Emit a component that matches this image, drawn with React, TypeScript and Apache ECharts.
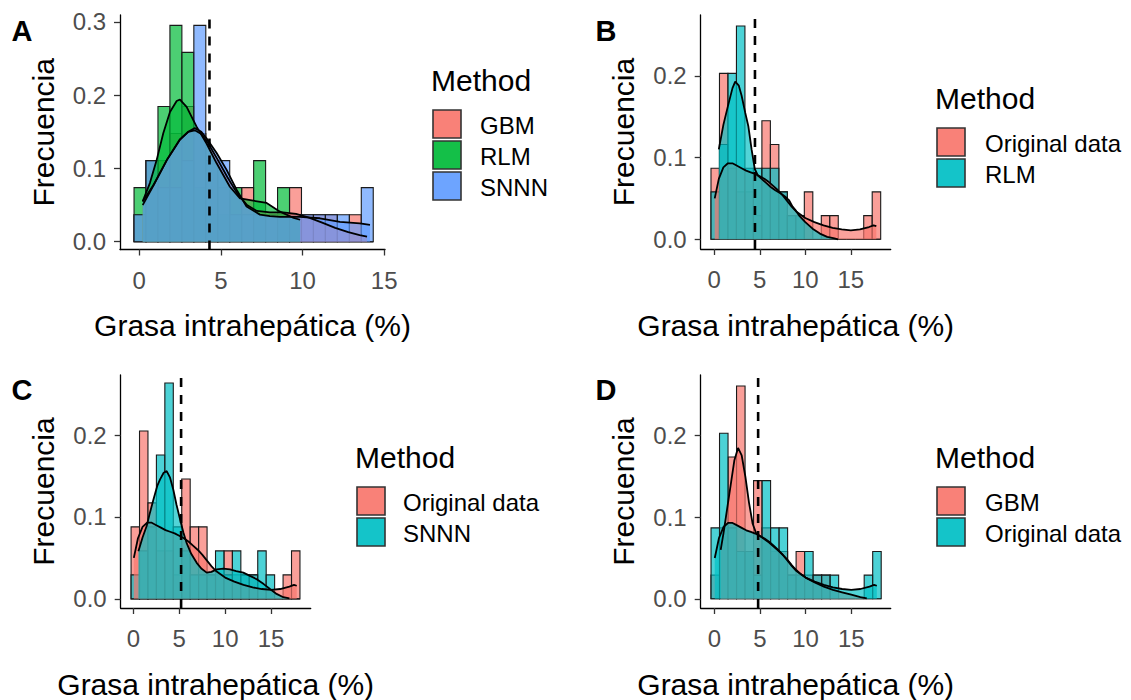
import React, { useEffect, useRef } from "react";
import * as echarts from "echarts";

const FONT = "Liberation Sans, Arial, sans-serif";
const RED = "#F8766D";
const GREEN = "#00BA38";
const BLUE = "#619CFF";
const TEAL = "#00BFC4";

const X_TITLE = "Grasa intrahepática (%)";
const Y_TITLE = "Frecuencia";
const LEGEND_TITLE = "Method";
const X_TICKS = [0, 5, 10, 15];
const Y_TICKS_A = [0, 0.1, 0.2, 0.3];
const Y_TICKS_BCD = [0, 0.1, 0.2];

// ---------- Panel A ----------
const A_BIN_START = -0.32;
const A_BIN_WIDTH = 0.7325;
const A_UNIT = 0.0369;
const A_GBM_COUNTS = [1, 3, 3, 4, 5, 4, 3, 2, 1, 2, 1, 1, 1, 2, 1, 1, 1, 0, 1, 0];
const A_RLM_COUNTS = [2, 3, 5, 8, 7, 2, 1, 1, 2, 0, 3, 0, 2, 1, 0, 0, 0, 0, 0, 0];
const A_SNNN_COUNTS = [1, 3, 2, 2, 3, 8, 3, 3, 1, 1, 1, 1, 1, 1, 1, 1, 1, 1, 0, 2];
const A_GBM_DENSITY = [[0.21, 0.05], [0.9, 0.078], [1.7, 0.112], [2.5, 0.14], [3.0, 0.15], [3.4, 0.152], [3.8, 0.147], [4.2, 0.135], [4.8, 0.112], [5.4, 0.088], [6.0, 0.066], [6.6, 0.05], [7.2, 0.042], [8.0, 0.04], [8.8, 0.04], [9.6, 0.038], [10.4, 0.033], [11.2, 0.026], [12.0, 0.019], [12.8, 0.013], [13.5, 0.009], [13.95, 0.007]];
const A_RLM_DENSITY = [[0.21, 0.055], [0.65, 0.08], [1.06, 0.111], [1.47, 0.148], [1.88, 0.177], [2.29, 0.192], [2.49, 0.194], [2.9, 0.184], [3.51, 0.157], [4.12, 0.134], [4.74, 0.107], [5.55, 0.075], [6.17, 0.059], [6.98, 0.056], [7.8, 0.053], [8.62, 0.041], [8.92, 0.038], [9.4, 0.033], [9.85, 0.03]];
const A_SNNN_DENSITY = [[0.21, 0.055], [0.86, 0.077], [1.68, 0.111], [2.49, 0.139], [3.0, 0.15], [3.4, 0.155], [3.8, 0.15], [4.12, 0.141], [4.74, 0.121], [5.35, 0.098], [5.96, 0.071], [6.57, 0.048], [7.39, 0.037], [8.0, 0.035], [8.62, 0.034], [9.84, 0.034], [11.06, 0.032], [12.29, 0.027], [13.51, 0.025], [14.13, 0.023]];
const A_MEAN = 4.3;

// ---------- Original data (as binned in each panel) ----------
const B_ORIG_COUNTS = [3, 7, 3, 2, 2, 1, 5, 4, 2, 1, 1, 2, 0, 1, 1, 0, 0, 0, 1, 2];
const C_ORIG_COUNTS = [3, 7, 4, 2, 2, 1, 5, 3, 3, 1, 1, 2, 1, 1, 1, 0, 0, 0, 1, 2];
const D_ORIG_COUNTS = [3, 7, 3, 2, 2, 1, 5, 3, 3, 1, 1, 2, 1, 1, 1, 0, 0, 0, 1, 2];
const ORIG_DENSITY = [[0.05, 0.05], [0.5, 0.074], [1.0, 0.088], [1.5, 0.093], [2.0, 0.093], [2.5, 0.09], [3.0, 0.087], [3.5, 0.084], [4.0, 0.082], [4.5, 0.08], [5.0, 0.077], [5.5, 0.074], [6.0, 0.07], [6.5, 0.065], [7.0, 0.06], [7.5, 0.054], [8.0, 0.047], [8.5, 0.04], [9.0, 0.034], [9.5, 0.03], [10.0, 0.026], [11.0, 0.021], [12.0, 0.017], [13.0, 0.014], [14.0, 0.012], [15.0, 0.011], [16.0, 0.012], [17.0, 0.015], [17.5, 0.017], [17.8, 0.016]];

// ---------- Panel B ----------
const B_BIN_START = -0.36;
const B_BIN_WIDTH = 0.932;
const B_UNIT = 0.029;
const B_RLM_COUNTS = [2, 4, 7, 9, 3, 3, 3, 3, 2, 1, 1, 0, 0, 0, 0, 0, 0, 0, 0, 0];
const B_RLM_DENSITY = [[0.5, 0.11], [1.0, 0.14], [1.5, 0.163], [2.0, 0.185], [2.3, 0.193], [2.7, 0.188], [3.0, 0.176], [3.4, 0.155], [3.75, 0.138], [4.1, 0.11], [4.45, 0.086], [4.8, 0.078], [5.2, 0.074], [5.7, 0.069], [6.2, 0.064], [6.7, 0.06], [7.3, 0.056], [7.8, 0.052], [8.2, 0.048], [8.6, 0.04], [8.9, 0.036], [9.4, 0.028], [10.0, 0.021], [10.8, 0.013], [11.6, 0.007], [12.4, 0.003], [13.2, 0.001], [13.6, 0.0]];
const B_MEAN = 4.47;

// ---------- Panel C ----------
const C_BIN_START = -0.25;
const C_BIN_WIDTH = 0.92;
const C_UNIT = 0.0293;
const C_SNNN_COUNTS = [1, 2, 3, 6, 9, 3, 2, 1, 1, 1, 2, 1, 2, 1, 1, 2, 1, 0, 0, 0];
const C_SNNN_DENSITY = [[0.55, 0.058], [1.0, 0.075], [1.45, 0.089], [1.8, 0.105], [2.18, 0.121], [2.6, 0.138], [2.91, 0.146], [3.3, 0.154], [3.63, 0.156], [4.0, 0.148], [4.36, 0.133], [4.7, 0.115], [5.09, 0.097], [5.45, 0.081], [5.81, 0.068], [6.3, 0.055], [6.9, 0.044], [7.4, 0.037], [7.99, 0.032], [8.5, 0.033], [9.08, 0.036], [9.8, 0.037], [10.53, 0.036], [11.2, 0.034], [11.98, 0.032], [12.7, 0.028], [13.44, 0.024], [14.2, 0.018], [14.89, 0.012], [15.6, 0.006], [16.34, 0.002], [17.0, 0.0005]];
const C_MEAN = 5.2;

// ---------- Panel D ----------
const D_BIN_START = -0.36;
const D_BIN_WIDTH = 0.932;
const D_UNIT = 0.029;
const D_GBM_COUNTS = [1, 3, 6, 9, 2, 5, 3, 2, 2, 1, 2, 1, 1, 1, 0, 0, 0, 0, 0, 0];
const D_GBM_DENSITY = [[0.7, 0.06], [1.0, 0.08], [1.4, 0.11], [1.8, 0.14], [2.2, 0.17], [2.6, 0.185], [3.0, 0.176], [3.4, 0.15], [3.8, 0.118], [4.2, 0.092], [4.6, 0.08], [5.0, 0.077], [5.5, 0.073], [6.0, 0.069], [6.5, 0.064], [7.0, 0.059], [7.5, 0.054], [8.0, 0.048], [8.5, 0.041], [9.0, 0.035], [9.5, 0.03], [10.0, 0.026], [11.0, 0.02], [12.0, 0.015], [13.0, 0.011], [14.0, 0.008], [15.0, 0.005], [16.0, 0.002], [16.7, 0.0005]];
const D_MEAN = 4.8;

function rgba(hex: string, a: number) {
  const r = parseInt(hex.slice(1, 3), 16);
  const g = parseInt(hex.slice(3, 5), 16);
  const b = parseInt(hex.slice(5, 7), 16);
  return `rgba(${r},${g},${b},${a})`;
}

type Group = { name: string; color: string; counts: number[]; density: number[][] };
type Panel = {
  letter: string;
  grid: { left: number; top: number; width: number; height: number };
  xMin: number; xMax: number; yMin: number; yMax: number;
  yTicks: number[];
  binStart: number; binWidth: number; unit: number;
  groups: Group[];
  mean: number;
  letterPos: [number, number];
  legend: { titleX: number; titleY: number; keyX: number; keyY: number[]; labelX: number };
};

const PANELS: Panel[] = [
  {
    letter: "A",
    grid: { left: 120, top: 15, width: 265, height: 234.5 },
    xMin: -1.18, xMax: 15.05, yMin: -0.0106, yMax: 0.3093,
    yTicks: Y_TICKS_A,
    binStart: A_BIN_START, binWidth: A_BIN_WIDTH, unit: A_UNIT,
    groups: [
      { name: "GBM", color: RED, counts: A_GBM_COUNTS, density: A_GBM_DENSITY },
      { name: "RLM", color: GREEN, counts: A_RLM_COUNTS, density: A_RLM_DENSITY },
      { name: "SNNN", color: BLUE, counts: A_SNNN_COUNTS, density: A_SNNN_DENSITY },
    ],
    mean: A_MEAN,
    letterPos: [22, 31],
    legend: { titleX: 431, titleY: 80, keyX: 433, keyY: [124, 155, 186], labelX: 480 },
  },
  {
    letter: "B",
    grid: { left: 700.7, top: 15, width: 190, height: 234 },
    xMin: -1.49, xMax: 19.38, yMin: -0.0119, yMax: 0.2745,
    yTicks: Y_TICKS_BCD,
    binStart: B_BIN_START, binWidth: B_BIN_WIDTH, unit: B_UNIT,
    groups: [
      { name: "Original data", color: RED, counts: B_ORIG_COUNTS, density: ORIG_DENSITY },
      { name: "RLM", color: TEAL, counts: B_RLM_COUNTS, density: B_RLM_DENSITY },
    ],
    mean: B_MEAN,
    letterPos: [606, 31],
    legend: { titleX: 935, titleY: 98, keyX: 937, keyY: [142, 173], labelX: 985 },
  },
  {
    letter: "C",
    grid: { left: 120.7, top: 375, width: 190, height: 233.5 },
    xMin: -1.38, xMax: 19.32, yMin: -0.0112, yMax: 0.2735,
    yTicks: Y_TICKS_BCD,
    binStart: C_BIN_START, binWidth: C_BIN_WIDTH, unit: C_UNIT,
    groups: [
      { name: "Original data", color: RED, counts: C_ORIG_COUNTS, density: ORIG_DENSITY },
      { name: "SNNN", color: TEAL, counts: C_SNNN_COUNTS, density: C_SNNN_DENSITY },
    ],
    mean: C_MEAN,
    letterPos: [22, 390],
    legend: { titleX: 355, titleY: 457, keyX: 357, keyY: [501, 532], labelX: 403 },
  },
  {
    letter: "D",
    grid: { left: 700.7, top: 375, width: 190, height: 233.5 },
    xMin: -1.49, xMax: 19.32, yMin: -0.0113, yMax: 0.2745,
    yTicks: Y_TICKS_BCD,
    binStart: D_BIN_START, binWidth: D_BIN_WIDTH, unit: D_UNIT,
    groups: [
      { name: "GBM", color: RED, counts: D_GBM_COUNTS, density: D_GBM_DENSITY },
      { name: "Original data", color: TEAL, counts: D_ORIG_COUNTS, density: ORIG_DENSITY },
    ],
    mean: D_MEAN,
    letterPos: [606, 390],
    legend: { titleX: 935, titleY: 457, keyX: 937, keyY: [501, 532], labelX: 985 },
  },
];

function buildOption() {
  const grids: any[] = [];
  const xAxes: any[] = [];
  const yAxes: any[] = [];
  const series: any[] = [];
  const graphics: any[] = [];

  PANELS.forEach((p, i) => {
    grids.push({ ...p.grid, containLabel: false });
    xAxes.push({
      type: "value", gridIndex: i, min: p.xMin, max: p.xMax,
      axisLine: { show: true, onZero: false, lineStyle: { color: "#000", width: 1.3 } },
      axisTick: { show: true, length: 6, customValues: X_TICKS, lineStyle: { color: "#333", width: 1.3 } },
      axisLabel: { show: true, customValues: X_TICKS, color: "#4D4D4D", fontSize: 24, fontFamily: FONT, margin: 18.5 },
      splitLine: { show: false },
      name: X_TITLE, nameLocation: "middle", nameGap: 61,
      nameTextStyle: { fontSize: 30, color: "#000", fontFamily: FONT },
    });
    yAxes.push({
      type: "value", gridIndex: i, min: p.yMin, max: p.yMax,
      axisLine: { show: true, onZero: false, lineStyle: { color: "#000", width: 1.3 } },
      axisTick: { show: true, length: 6, customValues: p.yTicks, lineStyle: { color: "#333", width: 1.3 } },
      axisLabel: { show: true, customValues: p.yTicks, color: "#4D4D4D", fontSize: 24, fontFamily: FONT, margin: 14, formatter: (v: number) => v.toFixed(1) },
      splitLine: { show: false },
      name: Y_TITLE, nameLocation: "middle", nameGap: 62,
      nameTextStyle: { fontSize: 30, color: "#000", fontFamily: FONT },
    });

    // histogram bars
    p.groups.forEach((g) => {
      const data = g.counts.map((c, k) => [p.binStart + k * p.binWidth, p.binStart + (k + 1) * p.binWidth, c * p.unit]);
      series.push({
        type: "custom", name: g.name, xAxisIndex: i, yAxisIndex: i, z: 2,
        data,
        renderItem: (params: any, api: any) => {
          const p0 = api.coord([api.value(0), 0]);
          const p1 = api.coord([api.value(1), api.value(2)]);
          return {
            type: "rect",
            shape: { x: p0[0], y: p1[1], width: p1[0] - p0[0], height: p0[1] - p1[1] },
            style: { fill: rgba(g.color, 0.7), stroke: "#1a1a1a", lineWidth: 1.1 },
          };
        },
      });
    });
    // densities
    p.groups.forEach((g) => {
      series.push({
        type: "line", name: g.name + " density", xAxisIndex: i, yAxisIndex: i, z: 3,
        data: g.density, showSymbol: false, symbol: "none", smooth: false,
        lineStyle: { color: "#000", width: 1.8 },
        areaStyle: { color: rgba(g.color, 0.68), opacity: 1, origin: 0 },
      });
    });
    // mean dashed line
    series.push({
      type: "line", name: "mean", xAxisIndex: i, yAxisIndex: i, z: 4,
      data: [[p.mean, p.yMin], [p.mean, p.yMax]], showSymbol: false, symbol: "none",
      lineStyle: { color: "#000", width: 2.6, type: [9, 8] },
    });

    // panel letter
    graphics.push({
      type: "text", x: p.letterPos[0], y: p.letterPos[1],
      style: { text: p.letter, fontSize: 29, fontWeight: "bold", fontFamily: FONT, fill: "#000", align: "center", verticalAlign: "middle" },
    });
    // legend
    const L = p.legend;
    graphics.push({
      type: "text", x: L.titleX, y: L.titleY,
      style: { text: LEGEND_TITLE, fontSize: 30, fontFamily: FONT, fill: "#000", align: "left", verticalAlign: "middle" },
    });
    p.groups.forEach((g, j) => {
      graphics.push({
        type: "rect", shape: { x: L.keyX, y: L.keyY[j] - 14, width: 28, height: 28 },
        style: { fill: rgba(g.color, 0.92), stroke: "#333", lineWidth: 1.6 },
      });
      graphics.push({
        type: "text", x: L.labelX, y: L.keyY[j] + 1,
        style: { text: g.name, fontSize: 24, fontFamily: FONT, fill: "#000", align: "left", verticalAlign: "middle" },
      });
    });
  });

  return {
    animation: false,
    backgroundColor: "#fff",
    grid: grids,
    xAxis: xAxes,
    yAxis: yAxes,
    series,
    graphic: graphics,
  };
}

export default function App() {
  const ref = useRef<HTMLDivElement>(null);
  useEffect(() => {
    if (!ref.current) return;
    const chart = echarts.init(ref.current, undefined, { renderer: "svg" });
    chart.setOption(buildOption() as any);
    return () => chart.dispose();
  }, []);
  return <div ref={ref} style={{ position: "fixed", left: 0, top: 0, width: 1131, height: 700, background: "#fff" }} />;
}
